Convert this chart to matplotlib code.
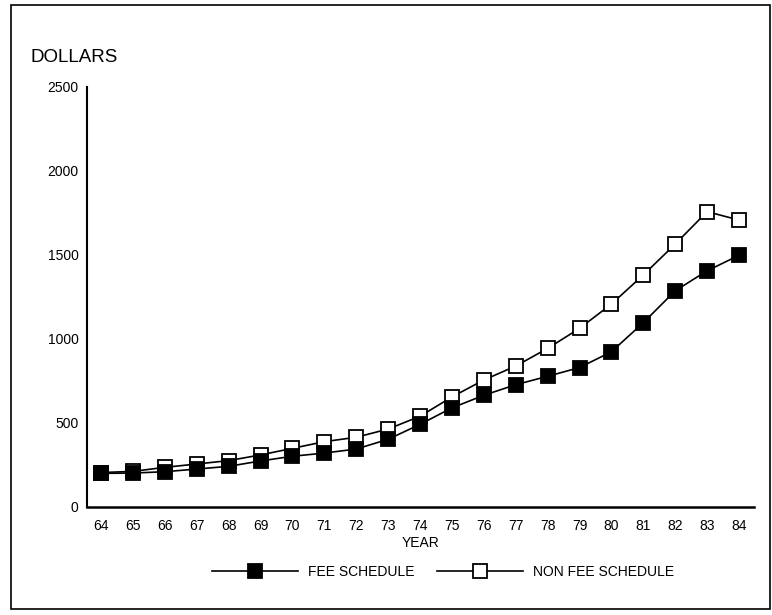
import numpy as np
import matplotlib.pyplot as plt
from matplotlib.patches import Rectangle

# --- data ---
years = list(range(64, 85))
fee_schedule = [200, 202, 210, 226, 242, 274, 302, 321, 345, 403, 492, 590,
                665, 728, 778, 830, 924, 1097, 1287, 1406, 1498]
non_fee_schedule = [205, 212, 236, 256, 276, 310, 349, 389, 415, 464, 540, 655,
                    756, 839, 944, 1063, 1208, 1381, 1565, 1758, 1708]
y_ticks = [0, 500, 1000, 1500, 2000, 2500]

plt.rcParams['font.family'] = ['Liberation Sans', 'DejaVu Sans']

fig = plt.figure(figsize=(7.72, 6.15), dpi=100, facecolor="white")
ax = fig.add_axes([87 / 772, 108 / 615, 667 / 772, 420 / 615])

line_kw = dict(color="black", linewidth=1.2, markersize=10, markeredgewidth=1.3,
               markeredgecolor="black")
ax.plot(years, non_fee_schedule, marker="s", markerfacecolor="white",
        label="NON FEE SCHEDULE", zorder=3, **line_kw)
ax.plot(years, fee_schedule, marker="s", markerfacecolor="black",
        label="FEE SCHEDULE", zorder=4, **line_kw)

ax.set_xlim(63.56, 84.47)
ax.set_ylim(0, 2500)
ax.set_xticks(years)
ax.set_xticklabels([str(y) for y in years])
ax.set_yticks(y_ticks)
ax.set_yticklabels([str(t) for t in y_ticks])
ax.tick_params(axis="both", length=0, labelsize=10)
ax.tick_params(axis="y", pad=6)
ax.tick_params(axis="x", pad=9)

for s in ("top", "right"):
    ax.spines[s].set_visible(False)
ax.spines["left"].set_linewidth(1.5)
ax.spines["bottom"].set_linewidth(1.8)

ax.set_xlabel("YEAR", fontsize=10, labelpad=2)
fig.text(30 / 772, 1 - 58 / 615, "DOLLARS", fontsize=13.5, va="center", ha="left")

# legend below axis: fee first, then non fee
h, l = ax.get_legend_handles_labels()
fig.legend(h[::-1], l[::-1], loc="center", bbox_to_anchor=(443 / 772, 1 - 572 / 615),
           ncol=2, frameon=False, fontsize=10, handlelength=6.2, numpoints=1,
           columnspacing=1.6, handletextpad=0.7)

# outer frame
fig.patches.append(Rectangle((11 / 772, 6 / 615), 759 / 772, 604 / 615,
                             transform=fig.transFigure, fill=False,
                             edgecolor="black", linewidth=1.2))

plt.savefig("out.png", dpi=100, facecolor=fig.get_facecolor())
